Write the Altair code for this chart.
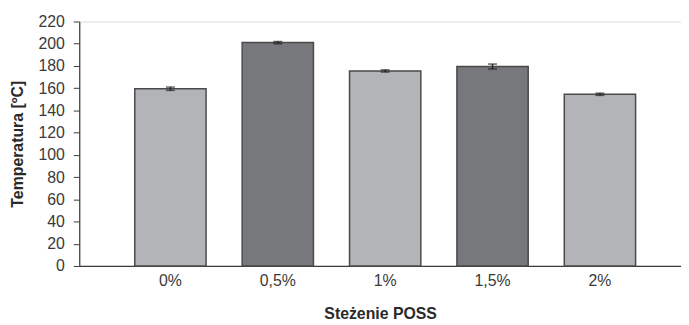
import altair as alt
import pandas as pd

categories = ["0%", "0,5%", "1%", "1,5%", "2%"]
values = [159.5, 201, 175.5, 179.5, 154.5]
errors = [1.5, 1.0, 1.0, 2.2, 1.0]
y_ticks = [0, 20, 40, 60, 80, 100, 120, 140, 160, 180, 200, 220]
bar_colors = ["#b3b4b7", "#77787b", "#b3b4b7", "#77787b", "#b3b4b7"]

df = pd.DataFrame({"cat": categories, "value": values, "err": errors})
df["lo"] = df["value"] - df["err"]
df["hi"] = df["value"] + df["err"]

font = "Liberation Sans"
yscale = alt.Scale(domain=[0, 220], nice=False)
xscale = alt.Scale(paddingInner=0.336, paddingOuter=0.47, align=0.55)

x_axis = alt.Axis(
    title="Steżenie POSS",
    labelAngle=0,
    ticks=False,
    labelPadding=7,
    labelFontSize=16,
    labelFont=font,
    labelColor="#3a3a3a",
    titleFont=font,
    titleFontSize=16,
    titleFontWeight="bold",
    titleColor="#2a2a2a",
    titlePadding=17,
    domainColor="#3a3a3a",
    domainWidth=1.2,
)

y_axis = alt.Axis(
    title="Temperatura [ºC]",
    values=y_ticks,
    labelOverlap=False,
    grid=False,
    tickSize=6,
    tickColor="#3a3a3a",
    labelPadding=9,
    labelFontSize=16,
    labelFont=font,
    labelColor="#3a3a3a",
    titleFont=font,
    titleFontSize=16,
    titleFontWeight="bold",
    titleColor="#2a2a2a",
    titlePadding=13,
    domainColor="#3a3a3a",
    domainWidth=1.2,
)

def xenc():
    return alt.X("cat:N", sort=categories, scale=xscale, axis=x_axis)

bars = alt.Chart(df).mark_bar(stroke="#4a4a4a", strokeWidth=1.5).encode(
    x=xenc(),
    y=alt.Y("value:Q", scale=yscale, axis=y_axis),
    color=alt.Color("cat:N", scale=alt.Scale(domain=categories, range=bar_colors), legend=None),
)

rules = alt.Chart(df).mark_rule(color="#222222", strokeWidth=1.5).encode(
    x=xenc(),
    y=alt.Y("lo:Q", scale=yscale, axis=y_axis),
    y2="hi:Q",
)

cap_lo = alt.Chart(df).mark_tick(color="#222222", thickness=1.5, size=9, orient="horizontal").encode(
    x=xenc(),
    y=alt.Y("lo:Q", scale=yscale, axis=y_axis),
)
cap_hi = alt.Chart(df).mark_tick(color="#222222", thickness=1.5, size=9, orient="horizontal").encode(
    x=xenc(),
    y=alt.Y("hi:Q", scale=yscale, axis=y_axis),
)

chart = (
    alt.layer(bars, rules, cap_lo, cap_hi)
    .properties(
        width=608,
        height=247,
        autosize=alt.AutoSizeParams(type="none"),
        padding={"left": 72, "top": 12, "right": 0, "bottom": 57},
    )
    .configure_view(stroke=None)
    .configure(background="white")
)

chart.save("out.html", embed_options={"renderer": "svg", "actions": False})
